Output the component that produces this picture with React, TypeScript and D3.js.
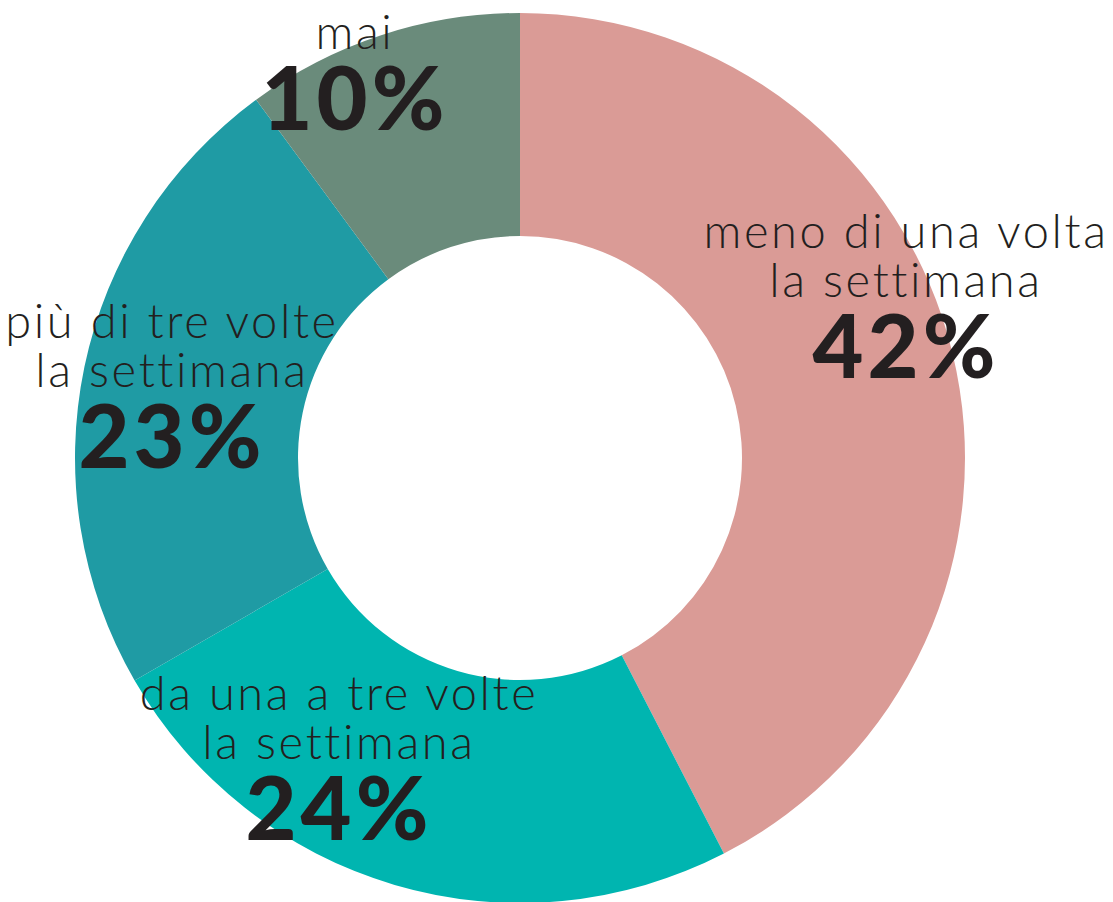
import React from "react";
import * as d3 from "d3";

const categories = [
  "meno di una volta la settimana",
  "da una a tre volte la settimana",
  "più di tre volte la settimana",
  "mai",
];
const values = [42, 24, 23, 10];
const colors = ["#DA9B96", "#00B5B0", "#1F9BA4", "#6A8B7B"];
// label lines per slice
const labelLines = [
  ["meno di una volta", "la settimana"],
  ["da una a tre volte", "la settimana"],
  ["più di tre volte", "la settimana"],
  ["mai"],
];

const width = 1113;
const height = 902;
const cx = 520;
const cy = 458;
const outerR = 445;
const innerR = 222;

// label anchor (centre x, baseline of the percentage) per slice
const labelPos = [
  { x: 906, y: 378 },
  { x: 339, y: 840 },
  { x: 172, y: 468 },
  { x: 355, y: 130 },
];

const LINE_GAP = 49;
const PCT_GAP = 81;

export default function App() {
  const pie = d3
    .pie<number>()
    .sort(null)
    .value((d) => d);
  const arcs = pie(values);
  const arc = d3
    .arc<d3.PieArcDatum<number>>()
    .innerRadius(innerR)
    .outerRadius(outerR);

  return (
    <svg
      width={width}
      height={height}
      style={{ position: "absolute", left: 0, top: 0, background: "#fff" }}
    >
      <g transform={`translate(${cx},${cy})`}>
        {arcs.map((a, i) => (
          <path key={categories[i]} d={arc(a) || ""} fill={colors[i]} />
        ))}
      </g>
      {arcs.map((a, i) => {
        const p = labelPos[i];
        const lines = labelLines[i];
        const firstBase = p.y - PCT_GAP - (lines.length - 1) * LINE_GAP;
        return (
          <g key={"lab" + i} fill="#231F20" textAnchor="middle">
            {lines.map((ln, j) => (
              <text
                key={j}
                x={p.x}
                y={firstBase + j * LINE_GAP}
                fontFamily="Lato, sans-serif"
                fontWeight={300}
                fontSize={47}
                letterSpacing={2.6}
              >
                {ln}
              </text>
            ))}
            <text
              x={p.x}
              y={p.y}
              fontFamily="Lato, sans-serif"
              fontWeight={900}
              fontSize={88}
              letterSpacing={4}
            >
              {`${values[i]}%`}
            </text>
          </g>
        );
      })}
    </svg>
  );
}
